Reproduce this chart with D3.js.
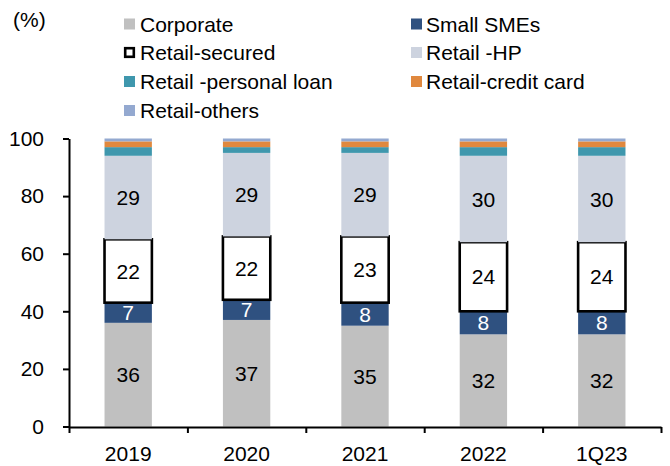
<!DOCTYPE html>
<html>
<head>
<meta charset="utf-8">
<script src="https://cdn.jsdelivr.net/npm/d3@7"></script>
<style>
  html, body { margin: 0; padding: 0; background: #fff; }
  svg { display: block; font-family: "Liberation Sans", Arial, sans-serif; }
</style>
</head>
<body>
<svg id="chart" width="670" height="466"></svg>
<script>
// Loan mix by segment, % of total
const periods = ["2019", "2020", "2021", "2022", "1Q23"];
const corporate      = [36, 37, 35, 32, 32];
const smallSMEs      = [7, 7, 8, 8, 8];
const retailSecured  = [22, 22, 23, 24, 24];
const retailHP       = [29, 29, 29, 30, 30];
const retailPersonal = [3, 2, 2, 3, 3];
const retailCard     = [2, 2, 2, 2, 2];
const retailOthers   = [1, 1, 1, 1, 1];
const yTicks = [0, 20, 40, 60, 80, 100];

const seriesNames = ["Corporate", "Small SMEs", "Retail-secured", "Retail -HP",
                     "Retail -personal loan", "Retail-credit card", "Retail-others"];
const seriesValues = [corporate, smallSMEs, retailSecured, retailHP,
                      retailPersonal, retailCard, retailOthers];
const fills = ["#c0c0c0", "#2f5180", "#ffffff", "#cdd3df", "#3f97ad", "#e0883e", "#94a9d0"];
const labelled = [true, true, true, true, false, false, false];
const labelColor = ["#000", "#fff", "#000", "#000"];

const svg = d3.select("#chart");
const fontSize = 21;

const x = d3.scaleBand().domain(periods).range([69, 661]).paddingInner(0.6).paddingOuter(0.3);
const y = d3.scaleLinear().domain([0, 100]).range([426.5, 138.5]);

// Build stacked rows
const table = periods.map((p, i) => {
  const row = { period: p };
  seriesNames.forEach((n, k) => row[n] = seriesValues[k][i]);
  return row;
});
const stacked = d3.stack().keys(seriesNames)(table);

const layers = svg.append("g").selectAll("g")
  .data(stacked)
  .join("g");

layers.each(function (layer, k) {
  const g = d3.select(this);
  const secured = seriesNames[k] === "Retail-secured";
  g.selectAll("rect")
    .data(layer)
    .join("rect")
    .attr("x", d => x(d.data.period))
    .attr("width", x.bandwidth())
    .attr("y", d => y(d[1]))
    .attr("height", d => y(d[0]) - y(d[1]))
    .attr("fill", fills[k])
    .attr("stroke", secured ? "#000" : "none")
    .attr("stroke-width", secured ? 2.6 : 0);
});

// Value labels for the large segments
layers.each(function (layer, k) {
  if (!labelled[k]) return;
  d3.select(this).selectAll("text")
    .data(layer)
    .join("text")
    .attr("x", d => x(d.data.period) + x.bandwidth() / 2)
    .attr("y", d => y((d[0] + d[1]) / 2))
    .attr("dy", "0.36em")
    .attr("text-anchor", "middle")
    .attr("font-size", fontSize)
    .attr("fill", labelColor[k])
    .text(d => d[1] - d[0]);
});

// Y axis
const yAxis = svg.append("g")
  .attr("transform", "translate(69,0)")
  .call(d3.axisLeft(y).tickValues(yTicks).tickSize(6).tickSizeOuter(0).tickPadding(19));
yAxis.select(".domain").attr("stroke", "#000").attr("stroke-width", 2);
yAxis.selectAll(".tick line").attr("stroke", "#000").attr("stroke-width", 2);
yAxis.selectAll(".tick text").attr("font-size", fontSize).attr("fill", "#000")
  .attr("font-family", "Liberation Sans, Arial, sans-serif");

// X axis: category boundary ticks
const xEdges = d3.scaleLinear().domain([0, periods.length]).range([69, 661]);
const xTickAxis = svg.append("g")
  .attr("transform", "translate(0,427)")
  .call(d3.axisBottom(xEdges).ticks(periods.length).tickValues(d3.range(periods.length + 1))
    .tickSize(6).tickSizeOuter(0).tickFormat(""));
xTickAxis.select(".domain").attr("stroke", "#000").attr("stroke-width", 2);
xTickAxis.selectAll(".tick line").attr("stroke", "#000").attr("stroke-width", 2);

// X axis: category labels
const xLabelAxis = svg.append("g")
  .attr("transform", "translate(0,427)")
  .call(d3.axisBottom(x).tickSize(0).tickPadding(19));
xLabelAxis.select(".domain").remove();
xLabelAxis.selectAll(".tick text").attr("font-size", fontSize).attr("fill", "#000")
  .attr("font-family", "Liberation Sans, Arial, sans-serif");

// Unit label
svg.append("text")
  .attr("x", 13).attr("y", 27)
  .attr("font-size", fontSize)
  .text("(%)");

// Legend
const legendPos = [
  [124, 24], [411, 24],
  [124, 52.5], [411, 52.5],
  [124, 81.5], [411, 81.5],
  [124, 110.5]
];
const legend = svg.append("g").selectAll("g")
  .data(seriesNames)
  .join("g")
  .attr("transform", (d, i) => `translate(${legendPos[i][0]},${legendPos[i][1]})`);

legend.append("rect")
  .attr("x", (d, i) => seriesNames[i] === "Retail-secured" ? 1.2 : 0)
  .attr("y", (d, i) => seriesNames[i] === "Retail-secured" ? -4.3 : -5.5)
  .attr("width", (d, i) => seriesNames[i] === "Retail-secured" ? 8.6 : 11)
  .attr("height", (d, i) => seriesNames[i] === "Retail-secured" ? 8.6 : 11)
  .attr("fill", (d, i) => fills[i])
  .attr("stroke", (d, i) => seriesNames[i] === "Retail-secured" ? "#000" : "none")
  .attr("stroke-width", 2.6);

legend.append("text")
  .attr("x", (d, i) => i % 2 === 0 ? 16 : 15)
  .attr("dy", "0.36em")
  .attr("font-size", fontSize)
  .attr("fill", "#000")
  .text(d => d);
</script>
</body>
</html>
